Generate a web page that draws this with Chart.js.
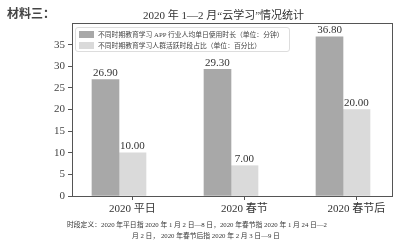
<!DOCTYPE html>
<html>
<head>
<meta charset="utf-8">
<script src="https://cdn.jsdelivr.net/npm/chart.js@4"></script>
<style>
  body { margin: 0; background: #fff; }
  #wrap { position: relative; width: 409px; height: 241px; overflow: hidden; }
  .txt { position: absolute; white-space: nowrap; color: #333; font-family: "Liberation Serif", "Noto Sans CJK SC", serif; }
  #legend { position: absolute; left: 75px; top: 27px; width: 215px; height: 25px; box-sizing: border-box;
    border: 1px solid #ddd; border-radius: 3px; background: rgba(255,255,255,0.85); }
  .item { position: absolute; left: 3px; font-size: 6.8px; color: #444; white-space: nowrap;
    font-family: "Liberation Serif", "Noto Sans CJK SC", serif; line-height: 9px; }
  .sw { display: inline-block; width: 15px; height: 7px; vertical-align: -1px; margin-right: 4px; }
</style>
</head>
<body>
<div id="wrap">
  <canvas id="chart" width="409" height="241"></canvas>
  <div class="txt" style="left:7px;top:4px;font-size:12px;font-weight:bold;font-family:'Noto Sans CJK SC',sans-serif;color:#444">材料三：</div>
  <div class="txt" style="left:143px;top:6px;font-size:11px;">2020 年 1—2 月“云学习”情况统计</div>
  <div id="legend"></div>
  <div class="txt" style="left:67px;top:219px;font-size:6.8px;">时段定义：2020 年平日指 2020 年 1 月 2 日—8 日，2020 年春节指 2020 年 1 月 24 日—2</div>
  <div class="txt" style="left:132px;top:230px;font-size:6.8px;">月 2 日， 2020 年春节后指 2020 年 2 月 3 日—9 日</div>
</div>
<script>
  const categories = ["2020 平日", "2020 春节", "2020 春节后"];
  const appMinutes = [26.9, 29.3, 36.8];
  const activeShare = [10.0, 7.0, 20.0];
  const seriesNames = [
    "不同时期教育学习 APP 行业人均单日使用时长（单位：分钟）",
    "不同时期教育学习人群活跃时段占比（单位：百分比）"
  ];
  const yTicks = [0, 5, 10, 15, 20, 25, 30, 35];

  const colors = ["rgb(168,168,168)", "rgb(218,218,218)"];
  const shift = 0.241; // dark bar sits left of the tick, light bar on it

  // legend drawn as html box inside the plot
  const legend = document.getElementById("legend");
  seriesNames.forEach((name, i) => {
    const el = document.createElement("div");
    el.className = "item";
    el.style.top = (2 + i * 11) + "px";
    el.innerHTML = '<span class="sw" style="background:' + colors[i] + '"></span>' + name;
    legend.appendChild(el);
  });

  const valueLabels = {
    id: "valueLabels",
    afterDatasetsDraw(chart) {
      const ctx = chart.ctx;
      ctx.save();
      ctx.font = "11px 'Liberation Serif'";
      ctx.fillStyle = "#333";
      ctx.textAlign = "center";
      ctx.textBaseline = "bottom";
      chart.data.datasets.forEach((ds, i) => {
        chart.getDatasetMeta(i).data.forEach((bar, j) => {
          ctx.fillText(ds.data[j].y.toFixed(2), bar.x, bar.y - 1);
        });
      });
      ctx.restore();
    }
  };

  const frame = {
    id: "frame",
    afterDraw(chart) {
      const a = chart.chartArea;
      const ctx = chart.ctx;
      ctx.save();
      ctx.strokeStyle = "#555";
      ctx.lineWidth = 1;
      ctx.strokeRect(a.left + 0.5, a.top + 0.5, a.right - a.left, a.bottom - a.top);
      ctx.restore();
    }
  };

  new Chart(document.getElementById("chart"), {
    type: "bar",
    data: {
      datasets: [
        {
          label: seriesNames[0],
          data: appMinutes.map((v, i) => ({ x: i - shift, y: v })),
          backgroundColor: colors[0]
        },
        {
          label: seriesNames[1],
          data: activeShare.map((v, i) => ({ x: i, y: v })),
          backgroundColor: colors[1]
        }
      ]
    },
    options: {
      responsive: false,
      animation: false,
      grouped: false,
      barThickness: 27,
      layout: { padding: { left: 0, top: 23, right: 17, bottom: 0 } },
      plugins: { legend: { display: false }, tooltip: { enabled: false } },
      scales: {
        x: {
          type: "linear",
          offset: false,
          min: -0.54,
          max: 2.317,
          afterBuildTicks: (s) => { s.ticks = categories.map((c, i) => ({ value: i })); },
          afterFit: (s) => { s.height = 45; },
          ticks: {
            callback: (v) => categories[v],
            font: { family: "'Liberation Serif', 'Noto Sans CJK SC'", size: 11 },
            color: "#333",
            padding: 3,
            maxRotation: 0
          },
          grid: { drawOnChartArea: false, offset: false, tickLength: 4, color: "#555" },
          border: { color: "#555" }
        },
        y: {
          min: 0,
          max: 40,
          afterBuildTicks: (s) => { s.ticks = yTicks.map((v) => ({ value: v })); },
          afterFit: (s) => { s.width = 72; },
          ticks: {
            font: { family: "'Liberation Serif'", size: 11 },
            color: "#444",
            padding: 3
          },
          grid: { drawOnChartArea: false, tickLength: 4, color: "#555" },
          border: { color: "#555" }
        }
      }
    },
    plugins: [valueLabels, frame]
  });
</script>
</body>
</html>
